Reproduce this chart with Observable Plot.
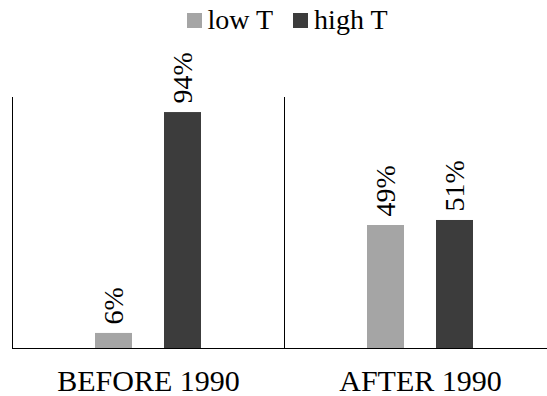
<!DOCTYPE html>
<html>
<head>
<meta charset="utf-8">
<script src="https://cdn.jsdelivr.net/npm/d3@7"></script>
<script src="https://cdn.jsdelivr.net/npm/@observablehq/plot@0.6"></script>
<style>
  html, body { margin: 0; padding: 0; background: #fff; overflow: hidden; width: 547px; height: 396px; }
  #legend { width: 547px; height: 40px; display: flex; align-items: center; justify-content: center;
    padding-left: 27px; box-sizing: border-box; font-family: "Liberation Serif", "Times New Roman", serif;
    font-size: 28px; line-height: 28px; color: #000; }
  .item { display: flex; align-items: center; margin: 0 10px; }
  .sw { width: 15px; height: 15px; margin-right: 6px; }
  #chart { height: 356px; }
  #chart svg { display: block; }
</style>
</head>
<body>
<div id="legend"></div>
<div id="chart"></div>
<script>
const groups = ["BEFORE 1990", "AFTER 1990"];
const series = ["low T", "high T"];
const lowT = [6, 49];
const highT = [94, 51];
const colors = ["#a5a5a5", "#3c3c3c"];

const data = groups.flatMap((g, i) => [
  {group: g, series: series[0], value: lowT[i]},
  {group: g, series: series[1], value: highT[i]}
]);

const legend = document.getElementById("legend");
series.forEach((s, i) => {
  const it = document.createElement("div");
  it.className = "item";
  const sw = document.createElement("div");
  sw.className = "sw";
  sw.style.background = colors[i];
  const t = document.createElement("span");
  t.textContent = s;
  it.appendChild(sw); it.appendChild(t);
  legend.appendChild(it);
});

const chart = Plot.plot({
  width: 547,
  height: 356,
  marginLeft: 12,
  marginRight: 0,
  marginTop: 57,
  marginBottom: 48,
  style: {fontFamily: "'Liberation Serif', 'Times New Roman', serif", fontSize: "28px", color: "#000", background: "#fff"},
  fx: {domain: groups, range: [12, 556], padding: 0, label: null},
  x: {domain: series, insetLeft: 83, insetRight: 82.5, paddingInner: 0.4676, paddingOuter: 0, axis: null},
  y: {domain: [0, 100], axis: null},
  color: {domain: series, range: colors},
  marks: [
    Plot.barY(data, {fx: "group", x: "series", y: "value", fill: "series"}),
    Plot.text(data, {fx: "group", x: "series", y: "value", text: d => d.value + "%", rotate: -90,
      textAnchor: "start", lineAnchor: "middle", dy: -9, fontSize: 28, fill: "#000"}),
    Plot.frame({anchor: "left", stroke: "#000", strokeWidth: 1}),
    Plot.ruleY([0], {stroke: "#000", strokeWidth: 1}),
    Plot.axisFx({anchor: "bottom", tickSize: 0, tickPadding: 21, fontSize: 30, label: null})
  ]
});
document.getElementById("chart").appendChild(chart);
</script>
</body>
</html>
